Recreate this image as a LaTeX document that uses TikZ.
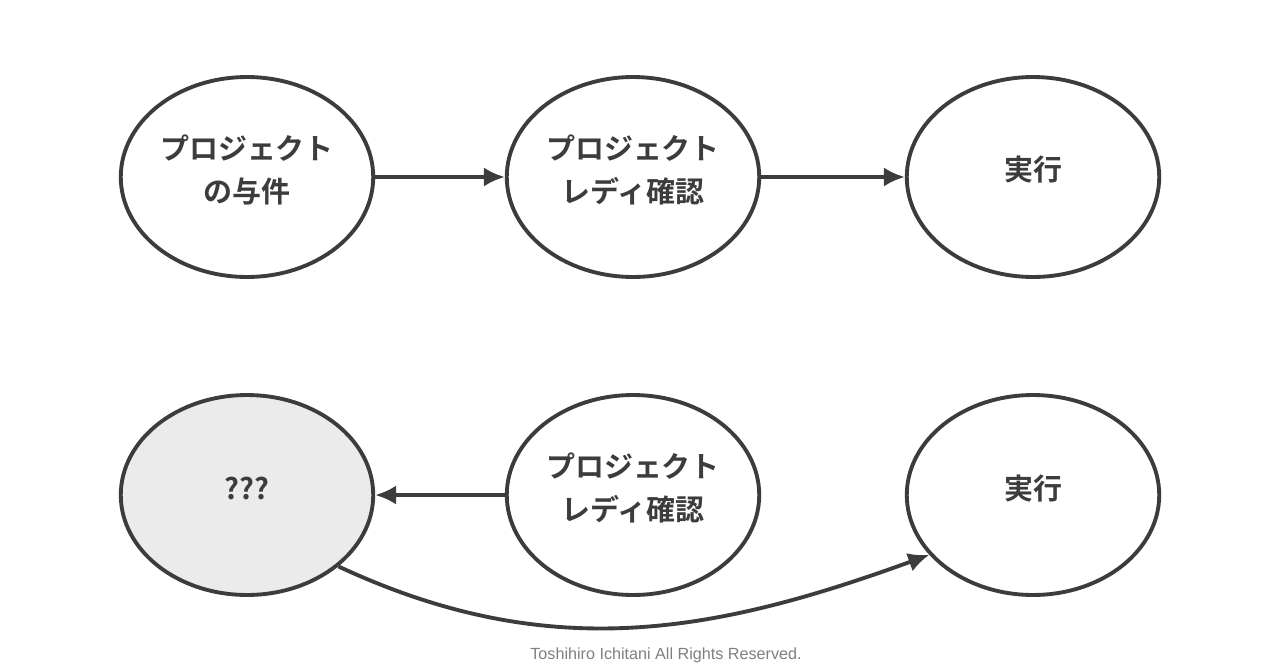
\documentclass[tikz,border=0pt]{standalone}
\usepackage{fontspec}
\setmainfont{Liberation Sans}
\newfontfamily\jpfont{Noto Sans CJK JP}[BoldFont={* Bold}]
\usetikzlibrary{shapes.geometric,arrows.meta}
\definecolor{inkgray}{HTML}{3C3C3C}
\definecolor{fillgray}{HTML}{EBEBEB}
\tikzset{
  phase/.style={ellipse, draw=inkgray, line width=2.2pt, minimum width=5.05cm, minimum height=4cm,
    label={[phasetext]center:#1}},
  phasetext/.style={align=center, yshift=0.14cm, font=\jpfont\bfseries\fontsize{16.5}{24}\selectfont, text=inkgray},
  flow/.style={draw=inkgray, line width=2.2pt, -{Latex[length=12pt,width=11pt]}},
}
\begin{document}
\begin{tikzpicture}[x=0.02cm,y=-0.02cm]
\useasboundingbox[fill=white] (0,0) rectangle (1280,670);

% upper row
\node[phase={プロジェクト\\の与件}] (give) at (247,177) {};
\node[phase={プロジェクト\\レディ確認}] (ready) at (633,177) {};
\node[phase={実行}] (run) at (1033,177) {};
\draw[flow] (give) -- (ready);
\draw[flow] (ready) -- (run);

% lower row
\node[phase={???}, fill=fillgray] (unknown) at (247,495) {};
\node[phase={プロジェクト\\レディ確認}] (ready2) at (633,495) {};
\node[phase={実行}] (run2) at (1033,495) {};
\draw[flow] (ready2) -- (unknown);
\draw[flow] (unknown.-38) to[out=-25, in=200] (run2.210);

\node[text=gray, font=\fontsize{9.2}{11}\selectfont] (credit) at (666,655) {Toshihiro Ichitani All Rights Reserved.};
\end{tikzpicture}
\end{document}
